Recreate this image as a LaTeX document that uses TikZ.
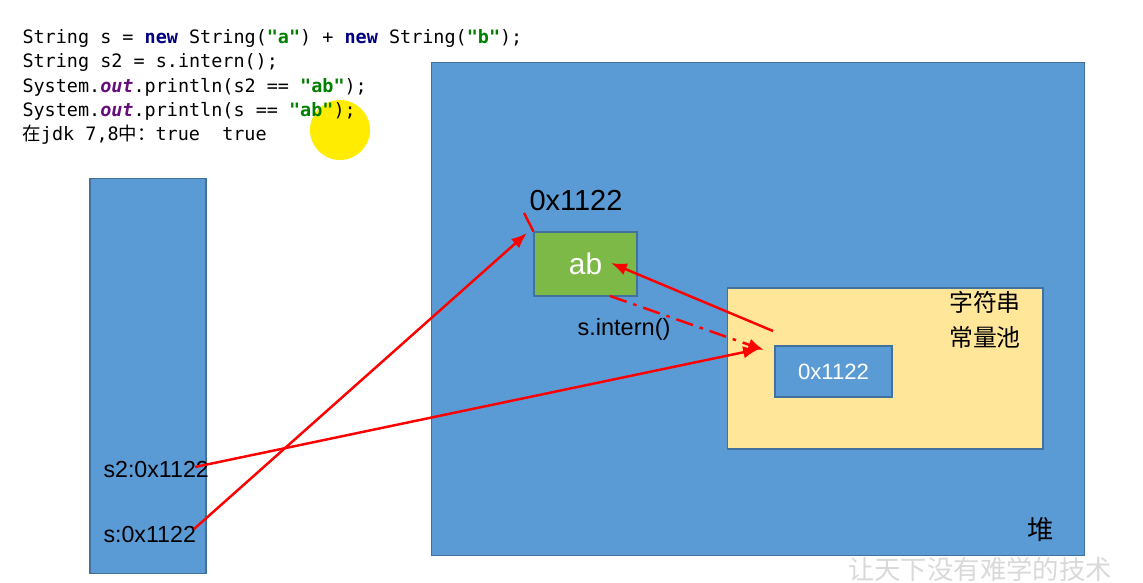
\documentclass[tikz,border=0pt]{standalone}
\usepackage{fontspec}
\setmainfont{Liberation Sans}
\setmonofont{DejaVu Sans Mono}
\newfontfamily\cjk{Noto Sans CJK SC}
\usetikzlibrary{arrows.meta}
\definecolor{boxblue}{RGB}{91,155,213}
\definecolor{boxline}{RGB}{65,113,156}
\definecolor{abgreen}{RGB}{125,185,70}
\definecolor{poolyellow}{RGB}{255,230,153}
\definecolor{kwblue}{RGB}{0,0,128}
\definecolor{strgreen}{RGB}{0,128,0}
\definecolor{fldpurple}{RGB}{102,14,122}
\definecolor{hilite}{RGB}{255,236,0}
\newcommand{\kw}[1]{\textbf{\color{kwblue}#1}}
\newcommand{\str}[1]{\textbf{\color{strgreen}#1}}
\newcommand{\fld}[1]{\textbf{\textit{\color{fldpurple}#1}}}
\tikzset{
  every picture/.style={line width=0.6pt},
  mem/.style={draw=boxline,fill=boxblue,rectangle,inner sep=0},
  obj/.style={draw=boxline,fill=abgreen,rectangle,inner sep=0,text=white,font=\fontsize{17}{17}\selectfont},
  pool/.style={draw=boxline,fill=poolyellow,rectangle,inner sep=0},
  ref/.style={draw=boxline,fill=boxblue,rectangle,inner sep=0,text=white,font=\fontsize{12.6}{12.6}\selectfont},
  code/.style={anchor=base west,inner sep=0,font=\ttfamily\fontsize{10.5}{12}\selectfont},
  lbl/.style={inner sep=0,font=\fontsize{13.2}{16}\selectfont},
  ptr/.style={red,line width=1.4pt,-{Latex[length=9pt,width=7pt]}},
}
\begin{document}
\begin{tikzpicture}[x=0.02cm,y=-0.02cm]
\useasboundingbox (0,0) rectangle (1143,582);
% pointer highlight
\fill[hilite] (340,130) circle (30);
% code
\node[code] (code1) at (22,43) {String s = \kw{new} String(\str{"a"}) + \kw{new} String(\str{"b"});};
\node[code] (code2) at (22,67) {String s2 = s.intern();};
\node[code] (code3) at (22,92) {System.\fld{out}.println(s2 == \str{"ab"});};
\node[code] (code4) at (22,116) {System.\fld{out}.println(s == \str{"ab"});};
\node[code] (code5) at (22,140) {{\cjk 在}jdk 7,8{\cjk 中：}true\ \ true};
% stack
\node[mem,minimum width=2.32cm,minimum height=7.92cm] (stack) at (148,376) {};
\node[lbl,anchor=west] (s2ref) at (103,470) {s2:0x1122};
\node[lbl,anchor=west] (sref) at (103,535) {s:0x1122};
% heap
\node[mem,minimum width=13.08cm,minimum height=9.88cm] (heap) at (758,309) {};
\node[inner sep=0,font=\cjk\fontsize{15}{15}\selectfont] (heaplbl) at (1041,530) {堆};
% string object
\node[obj,minimum width=2.06cm,minimum height=1.28cm] (ab) at (585.5,264) {ab};
\node[inner sep=0,font=\fontsize{16.5}{16.5}\selectfont] (addr) at (576,201) {0x1122};
% string constant pool
\node[pool,minimum width=6.32cm,minimum height=3.22cm] (strpool) at (885,368.5) {};
\node[inner sep=0,align=center,font=\cjk\fontsize{13.6}{20}\selectfont] (poollbl) at (985,320) {字符串\\常量池};
\node[ref,minimum width=2.34cm,minimum height=1.02cm] (entry) at (833.5,371.5) {0x1122};
\node[inner sep=0,font=\fontsize{13.4}{13.4}\selectfont] (intern) at (624,329) {s.intern()};
% connectors
\coordinate (s2out) at (195,467);
\coordinate (sout) at (194,529);
\coordinate (abtip) at (527,233);
\coordinate (addrfoot) at (524,213);
\coordinate (entrytip) at (759,349);
\coordinate (dashfrom) at (610,296);
\coordinate (dashtip) at (764,350);
\coordinate (poolfrom) at (773,331);
\coordinate (abtext) at (611,263);
\draw[red,line width=1.4pt] (addrfoot) -- (ab.north west);
\draw[ptr] (sout) -- (abtip);
\draw[ptr] (s2out) -- (entrytip);
\draw[ptr] (poolfrom) -- (abtext);
\draw[ptr,dash pattern=on 10pt off 4pt on 2pt off 4pt] (dashfrom) -- (dashtip);
% watermark
\node[inner sep=0,text=gray!30,font=\cjk\fontsize{15}{15}\selectfont] (mark) at (980,569) {让天下没有难学的技术};
\end{tikzpicture}
\end{document}
